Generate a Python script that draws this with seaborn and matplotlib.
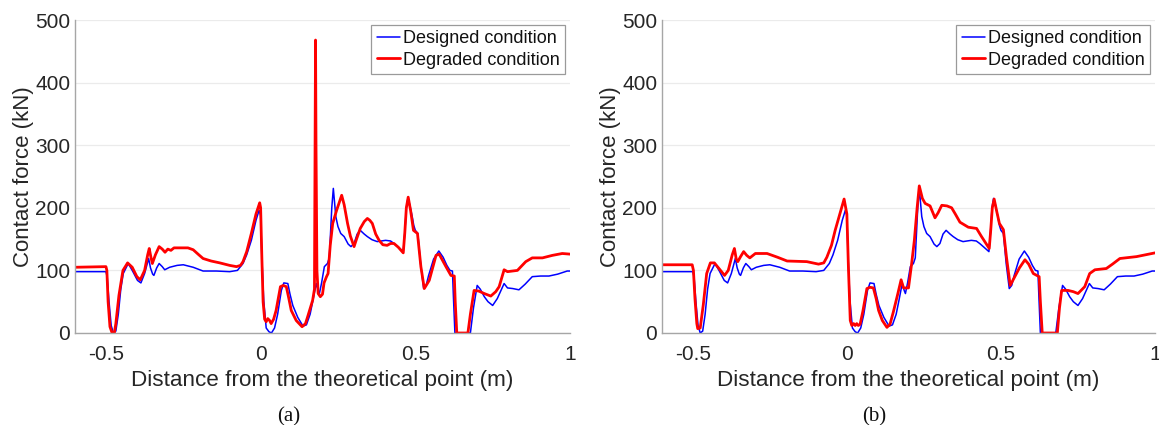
import numpy as np
import pandas as pd
import matplotlib
matplotlib.use("Agg")
import matplotlib.pyplot as plt
import seaborn as sns

# ---------------- data ----------------
designed_x = [-0.6, -0.50, -0.496, -0.49, -0.483, -0.476, -0.468, -0.46, -0.452, -0.444, -0.428,
              -0.415, -0.398, -0.387, -0.375, -0.362, -0.356, -0.349, -0.345, -0.336, -0.328,
              -0.318, -0.31, -0.294, -0.27, -0.25, -0.218, -0.186, -0.143, -0.1, -0.075,
              -0.057, -0.045, -0.03, -0.015, -0.005, 0.0, 0.004, 0.01, 0.018, 0.027, 0.035,
              0.045, 0.055, 0.067, 0.075, 0.088, 0.095, 0.104, 0.12, 0.137, 0.148, 0.16,
              0.169, 0.176, 0.18, 0.186, 0.19, 0.197, 0.206, 0.216, 0.222, 0.23, 0.235,
              0.243, 0.25, 0.259, 0.27, 0.283, 0.292, 0.302, 0.312, 0.322, 0.335, 0.345,
              0.36, 0.377, 0.39, 0.404, 0.42, 0.431, 0.445, 0.461, 0.466, 0.471, 0.476,
              0.482, 0.49, 0.495, 0.5, 0.508, 0.517, 0.527, 0.535, 0.543, 0.559, 0.576,
              0.59, 0.602, 0.612, 0.62, 0.623, 0.628, 0.678, 0.688, 0.7, 0.71, 0.723,
              0.735, 0.75, 0.765, 0.787, 0.798, 0.815, 0.835, 0.855, 0.878, 0.905, 0.932,
              0.96, 0.991, 1.0]
designed_y = [98, 98, 90, 50, 12, 0, 3, 30, 70, 95, 111,
              100, 84, 80, 95, 119, 104, 94, 92, 104, 111,
              106, 101, 105, 108, 109, 105, 99, 99, 98, 100,
              111, 125, 148, 180, 196, 188, 120, 52, 8, 2, 0,
              8, 30, 68, 80, 79, 62, 44, 25, 11, 13, 30,
              52, 70, 79, 68, 63, 80, 106, 111, 120, 200, 231,
              186, 170, 159, 154, 142, 138, 143, 158, 164, 158, 154,
              149, 146, 147, 148, 147, 143, 137, 130, 160, 200, 215,
              205, 186, 172, 164, 159, 111, 71, 76, 92, 118, 131,
              121, 108, 100, 99, 60, 0, 0, 40, 76, 70, 58,
              50, 44, 55, 79, 72, 71, 69, 78, 90, 91, 91,
              94, 99, 99]

degraded_a_x = [-0.6, -0.5, -0.497, -0.493, -0.487, -0.48, -0.473, -0.468, -0.458, -0.445, -0.43,
                -0.415, -0.4, -0.389, -0.375, -0.365, -0.36, -0.355, -0.35, -0.34, -0.328,
                -0.318, -0.309, -0.3, -0.29, -0.28, -0.26, -0.235, -0.218, -0.2, -0.186,
                -0.16, -0.132, -0.1, -0.078, -0.065, -0.057, -0.045, -0.03, -0.015, -0.003,
                0.0, 0.004, 0.008, 0.013, 0.018, 0.023, 0.029, 0.034, 0.042, 0.05, 0.064,
                0.073, 0.083, 0.09, 0.099, 0.115, 0.134, 0.145, 0.152, 0.168, 0.174, 0.176,
                0.1775, 0.179, 0.182, 0.186, 0.193, 0.2, 0.205, 0.213, 0.218, 0.225, 0.233,
                0.245, 0.262, 0.27, 0.281, 0.29, 0.302, 0.31, 0.322, 0.335, 0.345, 0.353,
                0.361, 0.372, 0.383, 0.395, 0.409, 0.42, 0.431, 0.445, 0.461, 0.466, 0.471,
                0.477, 0.485, 0.494, 0.507, 0.518, 0.529, 0.545, 0.567, 0.577, 0.599, 0.615,
                0.626, 0.629, 0.634, 0.67, 0.678, 0.69, 0.705, 0.723, 0.744, 0.76, 0.771,
                0.787, 0.798, 0.83, 0.857, 0.878, 0.911, 0.943, 0.975, 1.0]
degraded_a_y = [105, 106, 100, 50, 10, 0, 0, 15, 60, 100, 112,
                105, 90, 85, 100, 125, 135, 122, 111, 125, 138,
                134, 129, 134, 132, 136, 136, 136, 133, 125, 119,
                115, 112, 108, 106, 108, 114, 130, 159, 190, 208,
                200, 120, 50, 22, 18, 23, 20, 15, 22, 36, 74,
                76, 74, 58, 36, 20, 10, 15, 26, 52, 70, 300,
                468, 300, 100, 63, 58, 62, 80, 90, 95, 140, 175,
                195, 220, 205, 175, 155, 138, 150, 167, 178, 183, 180,
                175, 158, 148, 141, 140, 143, 143, 137, 128, 160, 200,
                217, 195, 164, 159, 106, 71, 84, 124, 126, 106, 92,
                91, 50, 0, 0, 30, 68, 67, 63, 59, 66, 74,
                101, 98, 100, 114, 120, 120, 124, 127, 126]

degraded_b_x = [-0.6, -0.502, -0.498, -0.493, -0.487, -0.484, -0.476, -0.466, -0.455, -0.443, -0.43,
                -0.415, -0.397, -0.385, -0.372, -0.365, -0.359, -0.354, -0.345, -0.335, -0.325,
                -0.315, -0.297, -0.259, -0.225, -0.194, -0.13, -0.092, -0.075, -0.065, -0.05,
                -0.038, -0.02, -0.009, 0.0, 0.005, 0.011, 0.016, 0.022, 0.027, 0.032, 0.037,
                0.043, 0.052, 0.065, 0.075, 0.086, 0.095, 0.103, 0.115, 0.13, 0.14, 0.151,
                0.165, 0.176, 0.184, 0.2, 0.21, 0.219, 0.228, 0.235, 0.245, 0.254, 0.27,
                0.286, 0.296, 0.308, 0.325, 0.34, 0.352, 0.367, 0.394, 0.421, 0.437, 0.462,
                0.467, 0.472, 0.478, 0.486, 0.495, 0.508, 0.518, 0.53, 0.545, 0.56, 0.578,
                0.59, 0.605, 0.624, 0.628, 0.634, 0.683, 0.69, 0.697, 0.718, 0.735, 0.75,
                0.772, 0.788, 0.805, 0.842, 0.862, 0.886, 0.94, 0.97, 1.0]
degraded_b_y = [109, 109, 100, 55, 15, 7, 8, 45, 95, 112, 112,
                103, 92, 100, 125, 135, 118, 114, 122, 130, 124,
                120, 127, 127, 121, 115, 114, 110, 112, 121, 140,
                164, 195, 214, 190, 105, 20, 12, 15, 12, 15, 12,
                14, 35, 71, 73, 72, 55, 36, 20, 9, 14, 34,
                62, 85, 72, 72, 110, 148, 200, 235, 215, 207, 203,
                184, 192, 204, 203, 200, 190, 177, 169, 167, 154, 135,
                165, 200, 214, 195, 175, 165, 121, 76, 90, 104, 117,
                110, 95, 90, 50, 0, 0, 40, 68, 68, 66, 63,
                74, 95, 101, 103, 110, 119, 122, 125, 128]

x_ticks = [-0.5, 0, 0.5, 1]
x_ticklabels = ["-0.5", "0", "0.5", "1"]
y_ticks = [0, 100, 200, 300, 400, 500]
y_ticklabels = ["0", "100", "200", "300", "400", "500"]
series_names = ["Designed condition", "Degraded condition"]
panel_labels = ["(a)", "(b)"]

# ---------------- styling ----------------
sns.set_theme(style="white")
plt.rcParams['font.family'] = ['Liberation Sans', 'DejaVu Sans']

W, H = 1159, 425
fig = plt.figure(figsize=(W / 100, H / 100), dpi=100)

panel_rects = [
    [75 / W, (H - 333) / H, 495 / W, 313 / H],
    [662 / W, (H - 333) / H, 493 / W, 313 / H],
]
degraded_sets = [(degraded_a_x, degraded_a_y), (degraded_b_x, degraded_b_y)]
label_x = [289, 874]

spine_col = "#a6a6a6"
text_col = "#262626"

for i, rect in enumerate(panel_rects):
    ax = fig.add_axes(rect)
    d1 = pd.DataFrame({"x": designed_x, "y": designed_y})
    dx, dy = degraded_sets[i]
    d2 = pd.DataFrame({"x": dx, "y": dy})
    sns.lineplot(data=d1, x="x", y="y", ax=ax, color="#0000ff", linewidth=1.1,
                 sort=False, estimator=None, label=series_names[0])
    sns.lineplot(data=d2, x="x", y="y", ax=ax, color="#ff0000", linewidth=2.0,
                 sort=False, estimator=None, label=series_names[1])
    ax.set_xlim(-0.6, 1.0)
    ax.set_ylim(0, 500)
    ax.set_xticks(x_ticks)
    ax.set_xticklabels(x_ticklabels)
    ax.set_yticks(y_ticks)
    ax.set_yticklabels(y_ticklabels)
    ax.yaxis.grid(True, color="#ebebeb", linewidth=0.9)
    ax.xaxis.grid(False)
    ax.set_axisbelow(True)
    for s in ["top", "right"]:
        ax.spines[s].set_visible(False)
    for s in ["left", "bottom"]:
        ax.spines[s].set_color(spine_col)
        ax.spines[s].set_linewidth(1.0)
    ax.tick_params(axis="both", direction="in", length=4, width=0.8, color=spine_col,
                   labelsize=15, labelcolor=text_col)
    ax.tick_params(axis="x", pad=9)
    ax.tick_params(axis="y", pad=3.5)
    ax.set_xlabel("Distance from the theoretical point (m)", fontsize=16.2, color=text_col, labelpad=4)
    ax.set_ylabel("Contact force (kN)", fontsize=16, color=text_col, labelpad=1)
    leg = ax.legend(loc="upper right", bbox_to_anchor=(0.99, 0.985), fontsize=13,
                    frameon=True, fancybox=False, framealpha=1, edgecolor="#9a9a9a",
                    handlelength=1.3, handletextpad=0.15, borderpad=0.3, labelspacing=0.25,
                    borderaxespad=0.0)
    leg.get_frame().set_linewidth(0.9)
    for t in leg.get_texts():
        t.set_color("#111111")
    fig.text(label_x[i] / W, (H - 417) / H, panel_labels[i], ha="center", va="center",
             fontsize=15, family=["Liberation Serif", "DejaVu Serif"], color="#111111")

fig.savefig("out.png", dpi=100)
